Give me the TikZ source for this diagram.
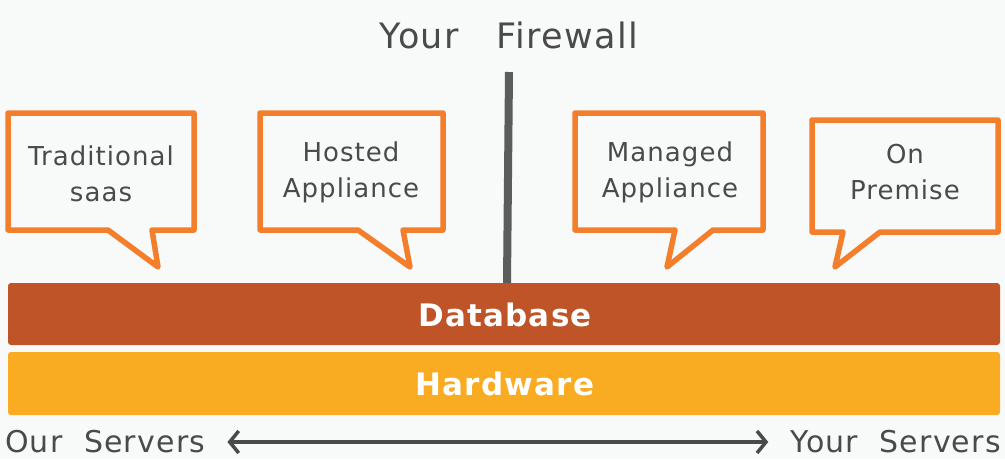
\documentclass[tikz,border=0pt]{standalone}
\usepackage{fontspec}
\setmainfont{DejaVu Sans}
\newfontfamily\hand{DejaVu Sans}[LetterSpace=4]
\usetikzlibrary{arrows.meta}
\definecolor{bg}{HTML}{F8F9F9}
\definecolor{bubble}{HTML}{F37E2C}
\definecolor{ink}{HTML}{4A4A4A}
\definecolor{dbcol}{HTML}{BE5428}
\definecolor{hwcol}{HTML}{F9AC22}
\definecolor{wall}{HTML}{5C5C5C}
\tikzset{
  bubblebox/.style={draw=bubble, line width=5.5pt, fill=bg, line join=round},
  btext/.style={text=ink, font=\hand\fontsize{26}{36}\selectfont, align=center, inner sep=0pt},
  bartext/.style={text=white, font=\hand\bfseries\fontsize{31}{34}\selectfont, inner sep=0pt},
  lbl/.style={text=ink, font=\hand\fontsize{30}{32}\selectfont, inner sep=0pt},
}
\begin{document}
\begin{tikzpicture}[x=1pt,y=-1pt]
\fill[bg] (0,0) rectangle (1005,459);
\useasboundingbox (0,0) rectangle (1005,459);
% title
\node[lbl, font=\hand\fontsize{35}{40}\selectfont] (title) at (509,35) {Your\ \ \ Firewall};
% bubbles
\draw[bubblebox] (8,113) -- (194,113) -- (194,230) -- (152,230) -- (158,267) -- (108,230) -- (8,230) -- cycle;
\draw[bubblebox] (260,113) -- (443,113) -- (443,230) -- (403,230) -- (410,267) -- (358,230) -- (260,230) -- cycle;
\draw[bubblebox] (575,113) -- (763,113) -- (763,230) -- (713,230) -- (667,267) -- (675,230) -- (575,230) -- cycle;
\draw[bubblebox] (812,120) -- (998,120) -- (998,232) -- (880,232) -- (835,267) -- (843,232) -- (812,232) -- cycle;
\node[btext] (t1) at (101,174) {Traditional\\saas};
\node[btext] (t2) at (351,172) {Hosted\\Appliance};
\node[btext] (t3) at (670,172) {Managed\\Appliance};
\node[btext] (t4) at (905,172) {On\\Premise};
% firewall
\coordinate (fwtop) at (509,72);
\coordinate (fwbot) at (507,283);
\draw[wall, line width=8pt] (fwtop) -- (fwbot);
% bars
\fill[dbcol, rounded corners=3pt] (8,283) rectangle (1000,345);
\fill[hwcol, rounded corners=3pt] (8,352) rectangle (1000,415);
\node[bartext] (db) at (505,315) {Database};
\node[bartext] (hw) at (505,384) {Hardware};
% bottom
\node[lbl, anchor=west] (ours) at (5,442) {Our\ \ Servers};
\node[lbl, anchor=east] (yours) at (1001,442) {Your\ \ Servers};
\draw[ink, line width=3.5pt, {Straight Barb[length=9pt,width=22pt]}-{Straight Barb[length=9pt,width=22pt]}] ([xshift=22pt]ours.east) -- ([xshift=-22pt]yours.west);
\end{tikzpicture}
\end{document}
